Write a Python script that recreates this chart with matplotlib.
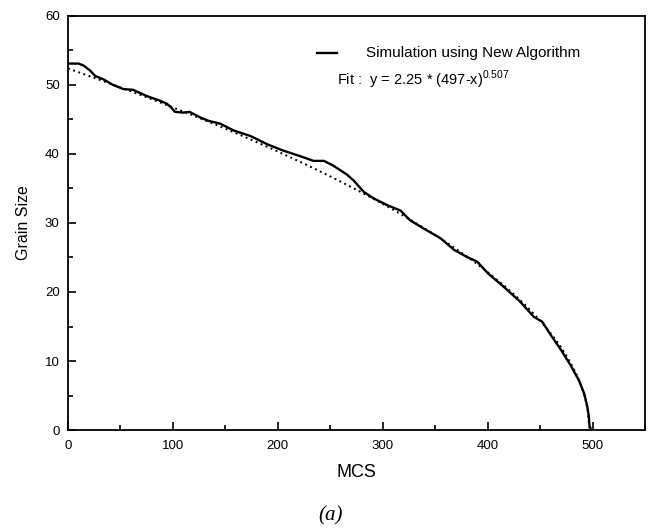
import matplotlib
matplotlib.use('Agg')
import matplotlib.pyplot as plt
import numpy as np
from matplotlib.ticker import MultipleLocator

plt.rcParams['font.family'] = ['Liberation Sans', 'DejaVu Sans']
plt.rcParams['mathtext.fontset'] = 'custom'
plt.rcParams['mathtext.rm'] = 'Liberation Sans'

# simulation curve
mcs = [0, 5, 10, 15, 21, 26, 34, 43, 53, 62, 75, 88, 94, 98, 102, 110, 116,
       126, 134, 145, 158, 174, 190, 205, 221, 234, 244, 253, 260, 266, 272,
       282, 291, 304, 317, 326, 339, 355, 368, 380, 390, 401, 415, 431, 444,
       452, 460, 470, 479, 487, 492, 495, 496.5, 497, 498]
grain = [53.1, 53.1, 53.1, 52.8, 52.1, 51.3, 50.8, 50.0, 49.4, 49.3, 48.4,
         47.7, 47.3, 46.8, 46.1, 46.0, 46.1, 45.3, 44.8, 44.4, 43.4, 42.6,
         41.4, 40.5, 39.7, 39.0, 39.0, 38.3, 37.6, 37.0, 36.2, 34.5, 33.6,
         32.6, 31.8, 30.4, 29.2, 27.8, 26.1, 25.1, 24.4, 22.6, 20.8, 18.6,
         16.4, 15.7, 13.8, 11.6, 9.4, 7.2, 5.3, 3.4, 1.9, 0.7, 0.3]

# fit parameters as printed on the chart
fit_a = 2.25
fit_x0 = 497
fit_p = 0.507

fig = plt.figure(figsize=(6.5, 5.32), dpi=100)
ax = fig.add_axes([0.1046, 0.1917, 0.8877, 0.7783])

fit_x = np.linspace(0, fit_x0, 400)
fit_y = fit_a * (fit_x0 - fit_x) ** fit_p
ax.plot(fit_x, fit_y, color='black', lw=1.4, linestyle=(0, (1, 1.8)))
ax.plot(mcs, grain, color='black', lw=1.7)

ax.set_xlim(0, 550)
ax.set_ylim(0, 60)
ax.xaxis.set_major_locator(MultipleLocator(100))
ax.xaxis.set_minor_locator(MultipleLocator(50))
ax.yaxis.set_major_locator(MultipleLocator(10))
ax.yaxis.set_minor_locator(MultipleLocator(5))
ax.tick_params(which='both', direction='in', top=False, right=False,
               labelsize=9.5, width=1.2)
ax.tick_params(axis='x', which='both', pad=7)
ax.tick_params(axis='y', which='both', pad=6)
ax.tick_params(which='major', length=6)
ax.tick_params(which='minor', length=3.5)
for s in ax.spines.values():
    s.set_linewidth(1.3)

ax.set_xlabel('MCS', fontsize=13, labelpad=9)
ax.set_ylabel('Grain Size', fontsize=11.5, labelpad=10)

# legend drawn by hand
ax.plot([0.4315, 0.4662], [0.9106, 0.9106], color='black', lw=1.7,
        transform=ax.transAxes)
ax.text(0.5165, 0.9106, 'Simulation using New Algorithm', fontsize=11,
        va='center', ha='left', transform=ax.transAxes)
ax.text(0.4662, 0.845, 'Fit :  y = 2.25 * (497-x)$^{\\mathrm{0.507}}$',
        fontsize=10.5, va='center', ha='left', transform=ax.transAxes)

fig.text(0.509, 1 - 516 / 532, '(a)', fontsize=15, style='italic',
         family='Liberation Serif', ha='center', va='center')

fig.savefig('out.png', dpi=100)
